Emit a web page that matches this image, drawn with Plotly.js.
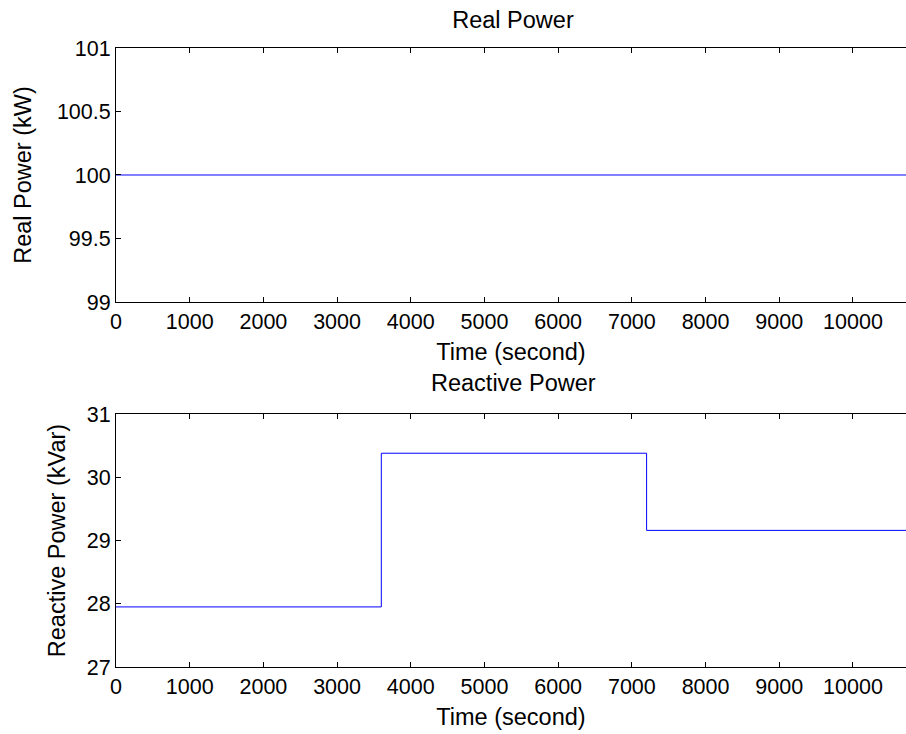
<!DOCTYPE html>
<html>
<head>
<meta charset="utf-8">
<script src="https://cdn.plot.ly/plotly-3.0.1.min.js"></script>
<style>html,body{margin:0;padding:0;background:#fff;}#chart{width:906px;height:734px;}</style>
</head>
<body>
<div id="chart"></div>
<script>
// Data
const timeReal = [0, 10800];
const realPower = [100, 100];
const timeReactive = [0, 3600, 7200, 10800];
const reactivePower = [27.95, 30.38, 29.16, 29.16];
const xTickVals = [0, 1000, 2000, 3000, 4000, 5000, 6000, 7000, 8000, 9000, 10000];
const realTickVals = [99, 99.5, 100, 100.5, 101];
const reactiveTickVals = [27, 28, 29, 30, 31];

const FAMILY = 'Liberation Sans, Arial, sans-serif';
const TICKFONT = {family: FAMILY, size: 21.5, color: '#000'};
const TITLEFONT = {family: FAMILY, size: 23.5, color: '#000'};

const traces = [
  {x: timeReal, y: realPower, type: 'scatter', mode: 'lines',
   line: {color: 'rgb(0,0,255)', width: 1}, xaxis: 'x', yaxis: 'y', hoverinfo: 'skip'},
  {x: timeReactive, y: reactivePower, type: 'scatter', mode: 'lines',
   line: {color: 'rgb(0,0,255)', width: 1, shape: 'hv'}, xaxis: 'x2', yaxis: 'y2', hoverinfo: 'skip'}
];

const xBase = {
  range: [0, 10720], tickvals: xTickVals, tickformat: 'd',
  ticks: 'inside', ticklen: 5, tickcolor: '#000', tickwidth: 1,
  showline: true, linecolor: '#000', linewidth: 1, mirror: 'ticks',
  showgrid: false, zeroline: false, tickfont: TICKFONT, automargin: false
};
const yBase = {
  ticks: 'inside', ticklen: 5, tickcolor: '#000', tickwidth: 1,
  showline: true, linecolor: '#000', linewidth: 1, mirror: false,
  showgrid: false, zeroline: false, tickfont: TICKFONT, automargin: false
};

const layout = {
  width: 906, height: 734,
  paper_bgcolor: '#fff', plot_bgcolor: '#fff',
  margin: {l: 116, r: 0, t: 48, b: 67},
  showlegend: false,
  font: TICKFONT,
  title: {text: 'Real Power', font: TITLEFONT, x: 513/906, xanchor: 'center', xref: 'container',
          y: 1 - 20/734, yanchor: 'middle', yref: 'container'},
  xaxis: Object.assign({}, xBase, {domain: [0, 1], anchor: 'y',
          title: {text: 'Time (second)', font: TITLEFONT, standoff: 10}}),
  yaxis: Object.assign({}, yBase, {domain: [0.5897, 1], anchor: 'x', range: [99, 101],
          tickvals: realTickVals, title: {text: 'Real Power (kW)', font: TITLEFONT, standoff: 18}}),
  xaxis2: Object.assign({}, xBase, {domain: [0, 1], anchor: 'y2',
          title: {text: 'Time (second)', font: TITLEFONT, standoff: 10}}),
  yaxis2: Object.assign({}, yBase, {domain: [0, 0.4087], anchor: 'x2', range: [27, 31],
          tickvals: reactiveTickVals, title: {text: 'Reactive Power (kVar)', font: TITLEFONT, standoff: 14}}),
  annotations: [
    {text: 'Reactive Power', font: TITLEFONT, showarrow: false,
     xref: 'paper', x: (513-116)/790, xanchor: 'center',
     yref: 'y2 domain', y: 1, yanchor: 'bottom', yshift: 16}
  ]
};

Plotly.newPlot('chart', traces, layout, {staticPlot: true, displayModeBar: false});
</script>
</body>
</html>
